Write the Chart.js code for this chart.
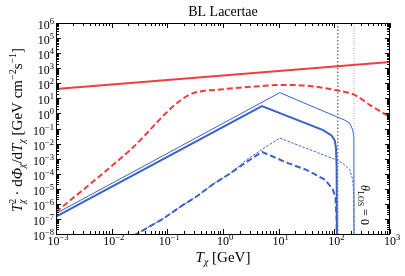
<!DOCTYPE html>
<html>
<head>
<meta charset="utf-8">
<script src="https://cdn.jsdelivr.net/npm/chart.js@4.4.1/dist/chart.umd.min.js"></script>
<style>
  html, body { margin: 0; padding: 0; background: #fff; }
  canvas { display: block; }
</style>
</head>
<body>
<canvas id="chart" width="405" height="276"></canvas>
<script>
// tick exponents
const xExps = [-3, -2, -1, 0, 1, 2, 3];
const yExps = [-8, -7, -6, -5, -4, -3, -2, -1, 0, 1, 2, 3, 4, 5, 6];

// red: solid and dashed
const redSolidT = [1e-3, 1e3];
const redSolidV = [42, 2570];
const redDashT = [1e-3, 5e-3, 0.0214, 0.245, 1, 5.2, 10.5, 29.5, 102, 234, 437, 1000];
const redDashV = [2.9e-7, 3.8e-5, 3.7e-3, 16.6, 40, 66, 78, 71, 36, 16.6, 3.6, 0.58];

// blue solid: thick and thin
const blueThickT = [1e-3, 5.0, 63, 89, 102, 107, 110, 112];
const blueThickV = [1.4e-7, 3.1, 0.079, 0.035, 0.016, 0.005, 3.2e-4, 1e-10];
const blueThinT = [1e-3, 10.5, 110, 155, 190, 214, 224, 226];
const blueThinV = [2.3e-7, 24, 0.6, 0.36, 0.22, 0.079, 0.029, 1e-10];

// blue dashed: thick and thin
const blueDashT = [0.025, 0.083, 0.17, 0.34, 0.66, 1.32, 2.7, 5.0, 14.8, 31.6, 67.6, 93, 105, 110, 112];
const blueDashV = [7.9e-9, 1e-7, 6.3e-7, 3.2e-6, 2e-5, 1e-4, 6.3e-4, 2.8e-3, 5e-4, 1.8e-4, 4e-5, 1e-5, 2.5e-6, 1e-7, 1e-10];
const blueDotT = [0.025, 0.083, 0.17, 0.34, 0.66, 1.32, 2.7, 5.2, 10.5, 110, 141, 190, 214, 224, 226];
const blueDotV = [7.9e-9, 1e-7, 6.3e-7, 3.2e-6, 2e-5, 1e-4, 8.9e-4, 4.5e-3, 0.023, 8.1e-4, 5e-4, 1.8e-4, 4e-5, 3.2e-6, 1e-10];

// vertical cut-off markers
const cutT = [115, 226];
const cutSpan = [1e-8, 1e6];

const serif = '"Liberation Serif", "DejaVu Serif", serif';
const RED = '#ef3d40';
const BLUE = '#3a62c8';

function pts(xs, ys) {
    return xs.map((x, i) => ({ x: x, y: ys[i] }));
}

function line(data, color, width, dash, extra) {
    return Object.assign({
        data: data,
        borderColor: color,
        borderWidth: width,
        borderDash: dash,
        pointRadius: 0,
        showLine: true,
        fill: false,
        tension: 0
    }, extra || {});
}

// draw a row of text runs [{t, f, dy}] centred on 0
function drawRuns(ctx, runs) {
    let total = 0;
    runs.forEach(r => { ctx.font = r.f; r.w = ctx.measureText(r.t).width; total += r.w + (r.gap || 0); });
    let x = -total / 2;
    runs.forEach(r => {
        ctx.font = r.f;
        ctx.fillText(r.t, x, r.dy || 0);
        x += r.w + (r.gap || 0);
    });
}

function drawPow(ctx, x, y, exp, align) {
    const sup = exp < 0 ? '\u2212' + Math.abs(exp) : String(exp);
    ctx.font = '12px ' + serif;
    const wb = ctx.measureText('10').width;
    ctx.font = '8.5px ' + serif;
    const ws = ctx.measureText(sup).width;
    const x0 = align === 'right' ? x - wb - ws : x - (wb + ws) / 2;
    ctx.font = '12px ' + serif;
    ctx.fillText('10', x0, y);
    ctx.font = '8.5px ' + serif;
    ctx.fillText(sup, x0 + wb, y - 5);
}

const framePlugin = {
    id: 'frame',
    afterDraw(chart) {
        const ctx = chart.ctx;
        const a = chart.chartArea;
        const xs = chart.scales.x, ys = chart.scales.y;
        ctx.save();
        ctx.strokeStyle = '#000';
        ctx.fillStyle = '#000';
        ctx.lineWidth = 1;
        ctx.strokeRect(a.left + 0.5, a.top + 0.5, a.right - a.left - 1, a.bottom - a.top);

        // inward ticks on all four sides
        ctx.beginPath();
        xExps.forEach(e => {
            for (let m = 1; m < 10; m++) {
                if (e === 3 && m > 1) break;
                const px = Math.round(xs.getPixelForValue(m * Math.pow(10, e))) + 0.5;
                const len = m === 1 ? 5 : 3;
                ctx.moveTo(px, a.bottom); ctx.lineTo(px, a.bottom - len);
                ctx.moveTo(px, a.top); ctx.lineTo(px, a.top + len);
            }
        });
        yExps.forEach(e => {
            for (let m = 1; m < 10; m++) {
                if (e === 6 && m > 1) break;
                const py = Math.round(ys.getPixelForValue(m * Math.pow(10, e))) + 0.5;
                const len = m === 1 ? 5 : 3;
                ctx.moveTo(a.left, py); ctx.lineTo(a.left + len, py);
                ctx.moveTo(a.right, py); ctx.lineTo(a.right - len, py);
            }
        });
        ctx.stroke();

        // tick labels
        ctx.textBaseline = 'alphabetic';
        xExps.forEach(e => drawPow(ctx, xs.getPixelForValue(Math.pow(10, e)) + 2, a.bottom + 11, e, 'center'));
        yExps.forEach(e => drawPow(ctx, a.left - 2, ys.getPixelForValue(Math.pow(10, e)) + 6, e, 'right'));

        // title
        ctx.font = '14px ' + serif;
        ctx.textAlign = 'center';
        ctx.fillText('BL Lacertae', (a.left + a.right) / 2, 16);
        ctx.textAlign = 'left';

        // x axis title
        ctx.save();
        ctx.translate((a.left + a.right) / 2, 262);
        drawRuns(ctx, [
            { t: 'T', f: 'italic 15px ' + serif },
            { t: '\u03c7', f: 'italic 10px ' + serif, dy: 3 },
            { t: ' [GeV]', f: '15px ' + serif }
        ]);
        ctx.restore();

        // y axis title
        ctx.save();
        ctx.translate(22, 130);
        ctx.rotate(-Math.PI / 2);
        drawRuns(ctx, [
            { t: 'T', f: 'italic 15px ' + serif },
            { t: '2', f: '10px ' + serif, dy: -6, gap: -5 },
            { t: '\u03c7', f: 'italic 10px ' + serif, dy: 3 },
            { t: ' \u00b7 d', f: '15px ' + serif },
            { t: '\u03a6', f: 'italic 15px ' + serif },
            { t: '\u03c7', f: 'italic 10px ' + serif, dy: 3 },
            { t: '/d', f: '15px ' + serif },
            { t: 'T', f: 'italic 15px ' + serif },
            { t: '\u03c7', f: 'italic 10px ' + serif, dy: 3 },
            { t: ' [GeV cm', f: '15px ' + serif },
            { t: '\u22122', f: '10px ' + serif, dy: -6 },
            { t: 's', f: '15px ' + serif },
            { t: '\u22121', f: '10px ' + serif, dy: -6 },
            { t: ']', f: '15px ' + serif }
        ]);
        ctx.restore();

        // theta label
        ctx.save();
        ctx.translate(361, 205);
        ctx.rotate(Math.PI / 2);
        drawRuns(ctx, [
            { t: '\u03b8', f: 'italic 12px ' + serif },
            { t: 'LOS', f: '8px ' + serif, dy: 3 },
            { t: ' = 0', f: '12px ' + serif }
        ]);
        ctx.restore();
        ctx.restore();
    }
};

new Chart(document.getElementById('chart'), {
    type: 'scatter',
    data: {
        datasets: [
            line(pts([cutT[0], cutT[0]], cutSpan), '#777', 1.5, [1.5, 2]),
            line(pts([cutT[1], cutT[1]], cutSpan), '#aaa', 1, [1, 1.5]),
            line(pts(blueDotT, blueDotV), BLUE, 1, [2.5, 1.5]),
            line(pts(blueDashT, blueDashV), BLUE, 2, [6, 3]),
            line(pts(blueThinT, blueThinV), BLUE, 1),
            line(pts(blueThickT, blueThickV), BLUE, 2),
            line(pts(redDashT, redDashV), RED, 2, [6, 3], { cubicInterpolationMode: 'monotone' }),
            line(pts(redSolidT, redSolidV), RED, 2)
        ]
    },
    options: {
        responsive: false,
        animation: false,
        layout: { padding: { top: 23, right: 15, left: 0, bottom: 0 } },
        plugins: { legend: { display: false }, tooltip: { enabled: false }, title: { display: false } },
        scales: {
            x: {
                type: 'logarithmic', min: 1e-3, max: 1e3,
                grid: { display: false }, border: { display: false }, ticks: { display: false },
                afterFit: s => { s.height = 42; }
            },
            y: {
                type: 'logarithmic', min: 1e-8, max: 1e6,
                grid: { display: false }, border: { display: false }, ticks: { display: false },
                afterFit: s => { s.width = 56; }
            }
        }
    },
    plugins: [framePlugin]
});
</script>
</body>
</html>
